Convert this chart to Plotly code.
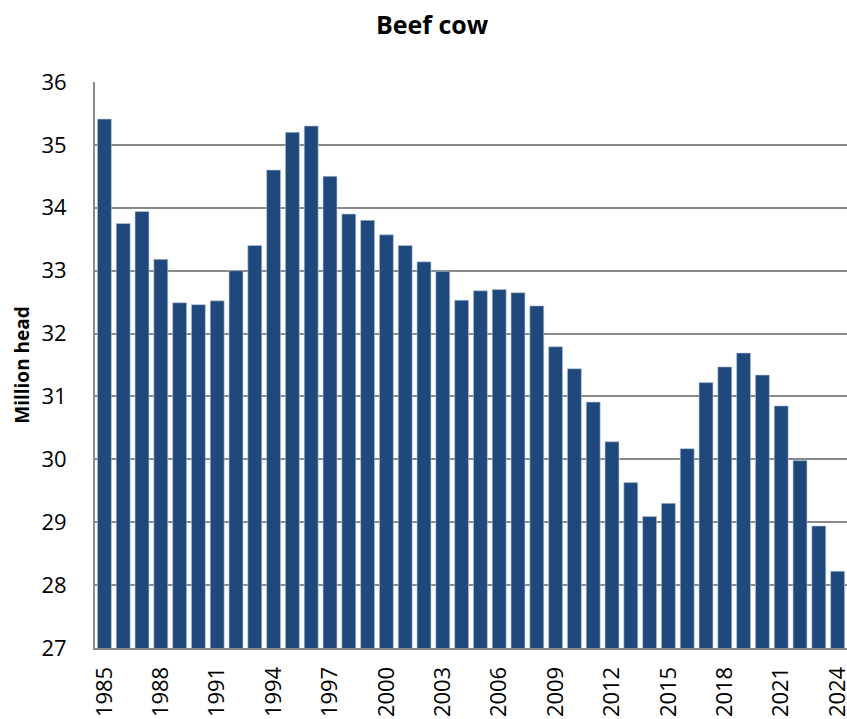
import plotly.graph_objects as go

years = list(range(1985, 2025))
beef_cows = [35.41, 33.75, 33.94, 33.18, 32.49, 32.46, 32.52, 33.00, 33.40, 34.60,
             35.20, 35.30, 34.50, 33.90, 33.80, 33.57, 33.40, 33.14, 32.99, 32.53,
             32.68, 32.70, 32.65, 32.44, 31.79, 31.44, 30.91, 30.28, 29.63, 29.09,
             29.30, 30.17, 31.22, 31.47, 31.69, 31.34, 30.85, 29.98, 28.94, 28.22]
tick_years = list(range(1985, 2025, 3))
y_ticks = list(range(27, 37))

fig = go.Figure(go.Bar(
    x=years, y=beef_cows,
    marker=dict(color="#1f497d", line=dict(color="#b9c7dc", width=0.6)),
    width=0.74,
))

fig.update_layout(
    width=847, height=719,
    margin=dict(l=95, r=0, t=82, b=71, autoexpand=False),
    paper_bgcolor="white", plot_bgcolor="white",
    font=dict(family="Open Sans, Noto Sans, sans-serif", color="black"),
    title=dict(text="<b>Beef cow</b>", xref="container", x=432 / 847, xanchor="center",
               yref="container", y=1 - 25 / 719, yanchor="middle",
               font=dict(size=25, color="black"), automargin=False),
    showlegend=False,
)

fig.update_xaxes(
    range=[1984.5, 2024.5], tickmode="array", tickvals=tick_years,
    ticktext=[str(y) for y in tick_years], tickangle=-90,
    tickfont=dict(size=22), showgrid=False, automargin=False,
    showline=True, linecolor="#8a8a8a", linewidth=2, ticks="", ticklabelstandoff=8,
    ticklabeloverflow="allow",
)
fig.update_yaxes(
    range=[27, 36], tickmode="array", tickvals=y_ticks, automargin=False,
    tickfont=dict(size=22), showgrid=True, gridcolor="#8a8a8a", gridwidth=1.6,
    showline=True, linecolor="#8a8a8a", linewidth=2, ticks="", ticklabelstandoff=22,
    zeroline=False,
    title=dict(text="<b>Million head</b>", font=dict(size=19), standoff=7),
)

fig.write_html(
    "out.html",
    config={"displayModeBar": False},
    post_script="document.body.style.margin='0';document.body.style.overflow='hidden';",
)
